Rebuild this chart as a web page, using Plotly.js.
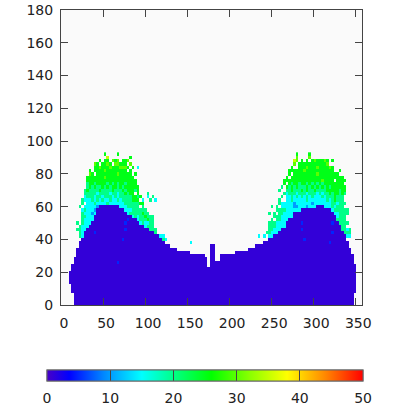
<!DOCTYPE html>
<html><head><meta charset="utf-8">
<script src="https://cdn.plot.ly/plotly-3.0.1.min.js"></script>
<style>html,body{margin:0;padding:0;background:#fff}</style></head>
<body><div id="c" style="width:407px;height:407px"></div>
<script>
// Column width 3 units, row height 2 units
const binX = 3, binY = 2, nCols = 120, nRows = 47;
const baseValue = 1;
// top of the solid block per column (index 0..119); -1 = empty
const blockTop = [-1,-1,-1,20,24,28,34,38,40,44,46,48,50,54,58,60,60,60,60,60,60,60,60,58,58,56,54,54,52,52,50,48,48,46,46,44,44,42,42,40,38,36,36,34,34,34,32,32,32,32,32,30,30,30,30,30,30,28,22,36,36,26,26,30,30,30,30,30,30,32,32,32,32,32,34,34,34,36,36,36,38,38,40,40,42,42,44,46,46,50,52,52,56,56,56,58,58,58,58,59,59,60,60,60,58,58,58,56,54,50,48,44,42,38,34,30,24,-1,-1,-1];
const blockBottomLeft = {3:14,4:8};
const blockBottomRight = {116:8};
// rows of scattered cells, code*5 = value; '.' leaves the block/background
const rowYs = [92,90,88,86,84,82,80,78,76,74,72,70,68,66,64,62,60,58,56,54,52,50,48,46,44,42,40,38];
const leftRows = [
".................5....5",
"..................7........5",
"...............5.55.656.556",
".............65.5565.66555.6",
".............55655565556665.5.3",
"...........5.5555655555555.5",
"...........65.55555555655555.5",
"..........5555555655555555555",
"..........55555555555555555555",
"..........45545555454545545555",
"..........454544545455454555555",
".........4544445444454445455545",
".........44444344443443445455.5...4",
".........34443443444343444445545..3.4",
"........43334343433433434444555.3..4.3",
"........4.33343333433333344444455",
".......4.3333323333233333344444.4",
"........34333223223233333333444444",
"........433323333333333334344444544",
"........44333333333333332333343445444",
"........43333333333333333333333444544",
"......4.43333333333333333333333343344",
".......433333333333333333333333333444.",
"......44333333333333333333333333334444",
".......4333333333333333333333333333344",
".......4333333333333333333333333333333333",
"......................................3343",
"...................................................3"
];
const rightStart = 78;
const rightRows = [
"...............5....5",
"...............6....6",
"..............76.5.5.5655565.5",
"..............6.555555555556",
".............5..55565556555565",
"............555555655555555555..5",
"............5.555555555655555555",
"...........5.555555555555555555555",
"..........55555555555555565555.5555",
"..........5.5455455454545455555555",
".........4.545454445454545454555555",
"........4..445444545445444455555455",
"..........4344434443444343445455454",
".........4.33434343434333434445444",
"........4..33433333433333334345444",
"........433333233333323333333443444",
".....4.4.3333322333233323333343444",
".......44443333333223333323343444444",
"....4.4.4433333333333333333332334444",
"......44433333333333333333333323444",
".....4.4433333333333333333333334444",
"....44433333333333333333333333344444",
"....4443333333333333333333333333444",
"....443333333333333333333333333334434",
"...4433333333333333333333333333334444",
"3.3.333333333333333333333333333333333",
"",
""
];
const darkCells = [[22,26],[25,46],[25,50],[26,52],[24,40],[13,44],[95,46],[95,50],[107,44],[107,50],[96,40],[106,38]];
const tickVals = [0,50,100,150,200,250,300,350];
const yTickVals = [0,20,40,60,80,100,120,140,160,180];
const barTicks = [0,10,20,30,40,50];
const colorStops = [[0,'#4800c8'],[0.07,'#0000ff'],[0.18,'#0088ff'],[0.3,'#00ffff'],[0.4,'#00ff88'],[0.52,'#00ff00'],[0.64,'#88ff00'],[0.76,'#ffff00'],[0.88,'#ff8800'],[1,'#ff0000']];

const z = [];
for (let r = 0; r < nRows; r++) z.push(new Array(nCols).fill(null));
blockTop.forEach((top, c) => {
  if (top < 0) return;
  const lo = blockBottomLeft[c] ?? blockBottomRight[c] ?? 0;
  for (let y = lo; y <= top; y += binY) z[y / binY][c] = baseValue;
});
function paint(rows, start) {
  rows.forEach((s, i) => {
    const r = rowYs[i] / binY;
    [...s].forEach((ch, k) => { if (ch !== '.' && z[r][start + k] === null) z[r][start + k] = (+ch) * 5; });
  });
}
paint(leftRows, 0);
paint(rightRows, rightStart);
darkCells.forEach(([c, y]) => { z[y / binY][c] = 5; });

const xs = Array.from({length: nCols}, (_, i) => i * binX + binX / 2);
const ys = Array.from({length: nRows}, (_, i) => i * binY);

const axisStyle = {showgrid:false, zeroline:false, showline:true, mirror:'allticks', linecolor:'#444', linewidth:1,
  ticks:'inside', ticklen:7, tickcolor:'#444', tickwidth:1, tickfont:{family:'DejaVu Sans', size:14, color:'#222'}};

const barPlace = {orientation:'h', lenmode:'pixels', len:316, thicknessmode:'pixels', thickness:11,
  x:-0.0464, xanchor:'left', y:-0.22, yanchor:'top', xpad:0, ypad:0, tickmode:'array', tickvals:barTicks,
  outlinecolor:'#666', outlinewidth:1};

Plotly.newPlot('c', [{
  type:'heatmap', x:xs, y:ys, z:z, zmin:0, zmax:50, zsmooth:false, hoverongaps:false,
  colorscale:colorStops,
  colorbar:Object.assign({}, barPlace, {ticktext:barTicks.map(String), ticks:'outside', ticklen:5, tickcolor:'rgba(0,0,0,0)', tickwidth:1,
    tickfont:{family:'DejaVu Sans', size:14, color:'#222'}})
},{
  type:'heatmap', x:xs, y:ys, z:z, zmin:0, zmax:50, zsmooth:false, hoverongaps:false,
  colorscale:colorStops,
  colorbar:Object.assign({}, barPlace, {ticks:'inside', ticklen:11, tickcolor:'#444', tickwidth:1, showticklabels:false})
}], {
  width:407, height:407, margin:{l:60.5, r:45, t:10, b:102, autoexpand:false},
  paper_bgcolor:'#fff', plot_bgcolor:'#fafafa',
  xaxis:Object.assign({range:[0,358], tickmode:'array', tickvals:tickVals, ticklabelstandoff:5, ticklabelshift:3}, axisStyle),
  yaxis:Object.assign({range:[0,180], tickmode:'array', tickvals:yTickVals, ticklabelstandoff:4}, axisStyle)
}, {displayModeBar:false, staticPlot:true});
</script></body></html>
